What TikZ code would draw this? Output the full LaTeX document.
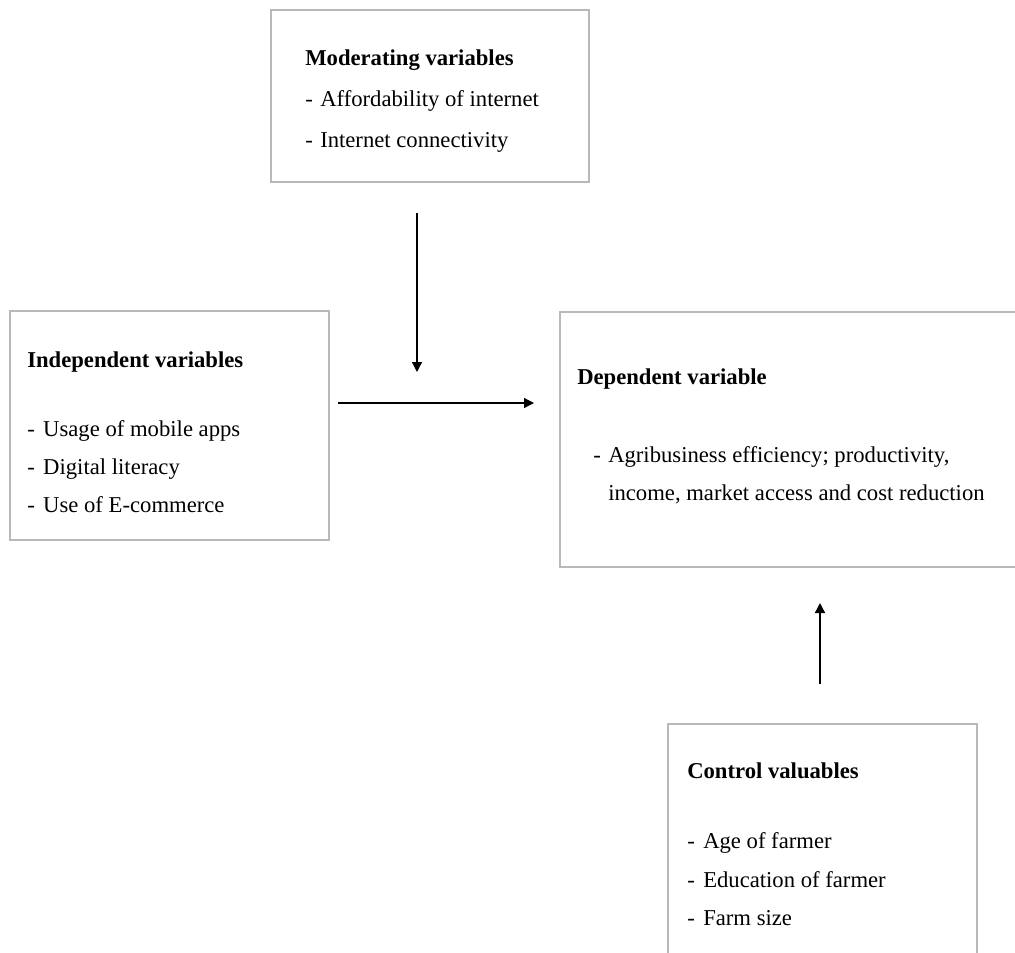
\documentclass[tikz,border=0pt]{standalone}
\usepackage{fontspec}
\setmainfont{Liberation Serif}
\usetikzlibrary{arrows.meta}

\def\pxu{0.75pt}

\begin{document}
\begin{tikzpicture}[
  x=\pxu, y=-\pxu,
  font=\fontsize{17}{20}\selectfont,
  >={Triangle[length=7.5pt,width=7.5pt]},
  varbox/.style={rectangle, draw=gray!55, line width=1.1pt, inner sep=0pt},
  txt/.style={anchor=base west, inner sep=0pt},
  head/.style={txt, font=\fontsize{17}{20}\selectfont\bfseries},
  link/.style={->, line width=1pt},
]
\useasboundingbox (0,0) rectangle (1015,953);
\clip (0,0) rectangle (1015,953);

% ===== Moderating variables =====
\node (modbox) [varbox, minimum width=318*\pxu, minimum height=172*\pxu] at (430,96) {};
\node (modhd) [head] at (305,65) {Moderating variables};
\node (moda) [txt] at (305,106) {\makebox[11.25pt][l]{-}Affordability of internet};
\node (modb) [txt] at (305,147) {\makebox[11.25pt][l]{-}Internet connectivity};

% ===== Independent variables =====
\node (indbox) [varbox, minimum width=319*\pxu, minimum height=229*\pxu] at (169.5,425.5) {};
\node (indhd) [head] at (27,367) {Independent variables};
\node (inda) [txt] at (27,436) {\makebox[12pt][l]{-}Usage of mobile apps};
\node (indb) [txt] at (27,474) {\makebox[12pt][l]{-}Digital literacy};
\node (indc) [txt] at (27,512) {\makebox[12pt][l]{-}Use of E-commerce};

% ===== Dependent variable (runs off the right edge) =====
\node (depbox) [varbox, minimum width=470*\pxu, minimum height=255*\pxu] at (795,439.5) {};
\node (dephd) [head] at (577,384) {Dependent variable};
\node (depa) [txt] at (593,462) {\makebox[11.25pt][l]{-}Agribusiness efficiency; productivity,};
\node (depb) [txt] at (608,500) {income, market access and cost reduction};

% ===== Control valuables (runs off the bottom) =====
\node (conbox) [varbox, minimum width=309*\pxu, minimum height=276*\pxu] at (822.5,862) {};
\node (conhd) [head] at (687,778) {Control valuables};
\node (cona) [txt] at (687,848) {\makebox[12pt][l]{-}Age of farmer};
\node (conb) [txt] at (687,887) {\makebox[12pt][l]{-}Education of farmer};
\node (conc) [txt] at (687,925) {\makebox[12pt][l]{-}Farm size};

% arrows (free-standing, between the boxes)
\coordinate (modout) at (417,213);
\coordinate (modin)  at (417,372);
\coordinate (indout) at (338,403);
\coordinate (depin)  at (534,403);
\coordinate (conout) at (820,684);
\coordinate (conin)  at (820,603);
\draw[link] (modout) -- (modin);
\draw[link] (indout) -- (depin);
\draw[link] (conout) -- (conin);
\end{tikzpicture}
\end{document}
